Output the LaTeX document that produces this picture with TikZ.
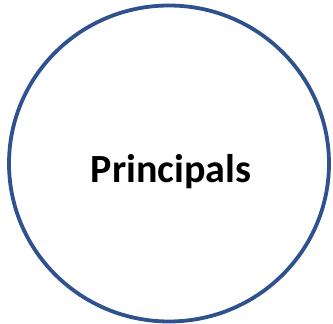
\documentclass[tikz,border=0pt]{standalone}
\usepackage{fontspec}
\setmainfont{Carlito}
\usetikzlibrary{shapes.geometric}
\definecolor{prBlue}{HTML}{2F528F}
\definecolor{prInk}{HTML}{000000}
\tikzset{
  group/.style={
    ellipse, draw=prBlue, line width=3.8pt, fill=white,
    minimum width=320pt, minimum height=316pt, inner sep=0pt
  },
  title/.style={font=\fontsize{40}{45}\selectfont\bfseries, text=prInk, inner sep=0pt},
}

\begin{document}
\begin{tikzpicture}[x=1pt, y=1pt]
  \useasboundingbox (0,0) rectangle (333,324);
  \node[group] (principals) at (169,160.5) {};
  \node[title, anchor=base] (name) at (171,141) {Principals};
\end{tikzpicture}
\end{document}
